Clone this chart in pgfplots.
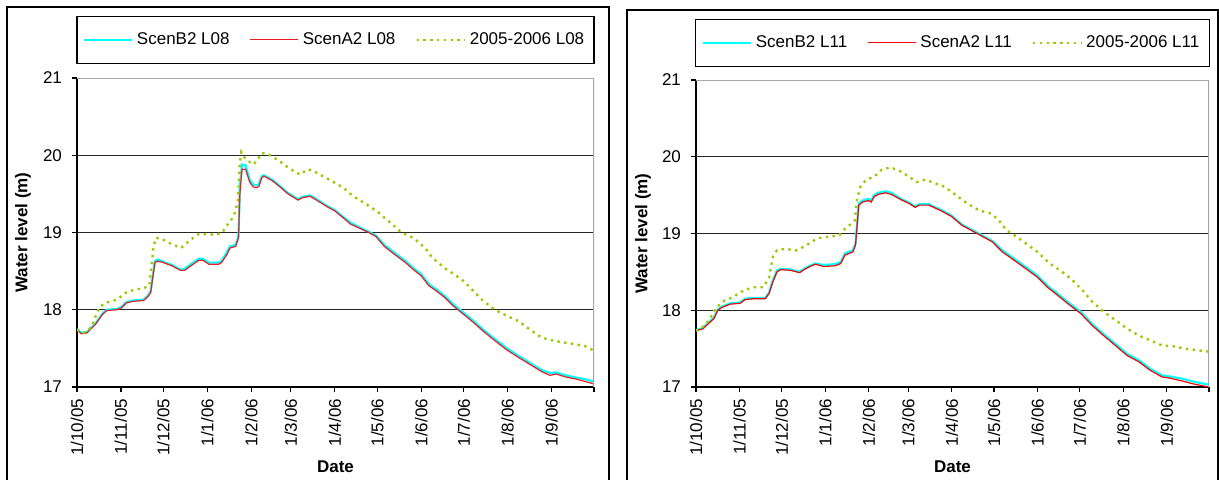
\documentclass[border=0pt]{standalone}
\usepackage{fontspec}
\setmainfont{Liberation Sans}
\usepackage{pgfplots}
\pgfplotsset{compat=1.18}
\definecolor{scenBcol}{RGB}{0,255,255}
\definecolor{scenAcol}{RGB}{250,2,2}
\definecolor{scenAcolL}{cmyk}{0,1,1,0}
\definecolor{obscol}{RGB}{153,204,0}
\newcommand{\fs}{\fontsize{8.5}{10}\selectfont}
\pgfplotsset{
 wl/.style={
  scale only axis,
  xmin=0, xmax=365, ymin=17, ymax=21,
  axis x line*=bottom, axis y line*=left,
  axis line style={black, line width=0.75pt, -},
  xtick={0,31,61,92,123,151,182,212,243,273,304,335,365},
  xticklabels={1/10/05,1/11/05,1/12/05,1/1/06,1/2/06,1/3/06,1/4/06,1/5/06,1/6/06,1/7/06,1/8/06,1/9/06,{}},
  ytick={17,18,19,20,21},
  extra y ticks={18,19,20},
  extra y tick labels={},
  extra y tick style={ymajorgrids=true, major tick length=0pt},
  grid style={black!85, line width=0.6pt},
  tick align=outside, major tick length=2.5pt, tick style={black, line width=0.6pt},
  xticklabel style={rotate=90, anchor=east, font=\fs},
  yticklabel style={font=\fs, xshift=-1.5pt},
  /pgf/number format/assume math mode=true,
  xlabel={Date}, ylabel={Water level (m)},
  every axis x label/.style={at={(rel axis cs:0.5,0)}, yshift=-40pt, anchor=center, font=\bfseries\fs},
  every axis y label/.style={at={(rel axis cs:0,0.5)}, xshift=-27pt, rotate=90, anchor=center, font=\bfseries\fs},
  legend columns=3,
  legend style={at={(0.5,1)}, anchor=south, yshift=7pt, draw=black, line width=0.75pt, font=\fs,
    inner xsep=3pt, inner ysep=6pt, /tikz/every even column/.append style={column sep=8pt}},
  legend image code/.code={\draw[#1] (0pt,0pt) -- (24pt,0pt);},
 },
}
\begin{document}
\begin{tikzpicture}
\useasboundingbox (0,0) rectangle (609.5pt,239.5pt);
% ---------------- Left panel L08
\begin{axis}[wl, at={(38.5pt,46pt)}, anchor=south west, width=258.5pt, height=154.5pt]
\addplot[color=scenBcol, line width=1.1pt] coordinates {
(0,17.75)(3,17.70)(7,17.71)(13,17.82)(18,17.95)(21,18.00)(28,18.01)(31,18.03)(35,18.10)(40,18.12)
(47,18.13)(50,18.18)(52,18.24)(55,18.63)(57,18.65)(61,18.62)(67,18.58)(73,18.52)(76,18.53)(82,18.61)
(86,18.66)(89,18.66)(93,18.61)(100,18.61)(102,18.63)(106,18.75)(108,18.82)(112,18.84)(114,18.95)(115,19.60)
(116.5,19.88)(119,19.87)(122,19.68)(124.5,19.62)(127,19.61)(128.5,19.63)(130.5,19.73)(132,19.74)(138,19.68)(144,19.59)
(149,19.51)(156,19.43)(159,19.46)(164.5,19.48)(170,19.42)(177,19.34)(182,19.29)(188,19.20)(193,19.13)(199,19.07)
(206,19.01)(211,18.96)(217,18.84)(224,18.74)(232,18.63)(237.5,18.54)(243,18.46)(248.5,18.33)(254,18.26)(259.5,18.18)
(265,18.08)(273,17.96)(279,17.87)(287,17.74)(295,17.62)(303.5,17.50)(312,17.40)(320,17.31)(328,17.22)(334,17.18)
(338,17.19)(345,17.15)(353,17.12)(359,17.10)(365,17.07)};
\addlegendentry{ScenB2 L08}
\addplot[color=scenAcolL, line width=0.6pt] coordinates {
(0,17.74)(3,17.69)(7,17.70)(13,17.81)(18,17.94)(21,17.99)(28,18.00)(31,18.02)(35,18.09)(40,18.11)
(47,18.12)(50,18.17)(52,18.22)(55,18.61)(57,18.63)(61,18.61)(67,18.57)(73,18.51)(76,18.51)(82,18.59)
(86,18.64)(89,18.64)(93,18.59)(100,18.59)(102,18.61)(106,18.72)(108,18.80)(112,18.82)(114,18.93)(115,19.50)
(116.5,19.82)(119,19.82)(122,19.65)(124.5,19.59)(127,19.58)(128.5,19.60)(130.5,19.71)(132,19.73)(138,19.67)(144,19.58)
(149,19.50)(156,19.42)(159,19.45)(164.5,19.47)(170,19.41)(177,19.33)(182,19.28)(188,19.19)(193,19.11)(199,19.06)
(206,19.00)(211,18.95)(217,18.82)(224,18.72)(232,18.61)(237.5,18.52)(243,18.44)(248.5,18.31)(254,18.24)(259.5,18.16)
(265,18.06)(273,17.94)(279,17.85)(287,17.72)(295,17.60)(303.5,17.48)(312,17.38)(320,17.29)(328,17.20)(334,17.15)
(338,17.17)(345,17.13)(353,17.10)(359,17.07)(365,17.04)};
\addlegendentry{ScenA2 L08}
\addplot[color=obscol, line width=1.2pt, dash pattern=on 1.2pt off 2.2pt] coordinates {
(0,17.74)(4.7,17.70)(10,17.77)(15.7,18.03)(20,18.09)(28,18.13)(36,18.24)(47,18.28)(51,18.31)(54,18.80)
(55.6,18.93)(59.8,18.92)(66.7,18.85)(73.5,18.80)(80.4,18.91)(86,18.98)(91.5,18.98)(98,18.97)(102.5,19.00)(106.6,19.11)
(110.7,19.21)(113.5,19.39)(114.9,19.88)(116,20.04)(119,19.95)(124.5,19.88)(127,19.93)(130.6,20.03)(135.5,20.01)(142.4,19.93)
(150.7,19.82)(157.6,19.75)(163,19.82)(168.6,19.78)(179.6,19.67)(188,19.58)(195,19.47)(204,19.37)(212.7,19.26)(221,19.13)
(229,19.00)(237.5,18.93)(245.8,18.80)(251,18.67)(259.5,18.54)(267.8,18.44)(273,18.37)(280,18.24)(287,18.11)(295,18.00)
(303.6,17.92)(312,17.85)(320,17.74)(328,17.64)(333.9,17.61)(342,17.58)(350,17.56)(358.7,17.53)(364,17.48)};
\addlegendentry{2005-2006 L08}
\draw[gray!70, line width=0.6pt] (rel axis cs:0,1) -- (rel axis cs:1,1) -- (rel axis cs:1,0);
\end{axis}
% ---------------- Right panel L11
\begin{axis}[wl, at={(348pt,46pt)}, anchor=south west, width=256.5pt, height=153.5pt,
  legend style={yshift=-0.5pt},
  every axis y label/.style={at={(rel axis cs:0,0.5)}, xshift=-26.5pt, rotate=90, anchor=center, font=\bfseries\fs}]
\addplot[color=scenBcol, line width=1.1pt] coordinates {
(0,17.74)(5,17.77)(9,17.84)(12.7,17.90)(15.5,18.01)(18.8,18.05)(24.4,18.09)(31.3,18.10)(35,18.15)(41,18.16)
(49.3,18.16)(52,18.23)(54.3,18.37)(57.6,18.52)(60.4,18.54)(67.3,18.53)(73.7,18.50)(77,18.54)(81,18.58)(85,18.61)
(90.8,18.59)(99,18.60)(103,18.63)(106,18.74)(111.6,18.78)(113.5,18.87)(115.8,19.39)(118.5,19.43)(122.7,19.45)(124.6,19.43)
(126.8,19.50)(129.6,19.53)(135,19.55)(139,19.53)(146,19.45)(151.8,19.40)(156,19.35)(158.7,19.38)(165.6,19.38)(174,19.31)
(182,19.23)(189,19.12)(196,19.05)(203,18.98)(211,18.90)(218,18.78)(226.5,18.67)(234.8,18.56)(243,18.45)(250,18.32)
(257,18.22)(265,18.10)(273.6,17.98)(282,17.82)(290,17.69)(298.5,17.56)(306.8,17.43)(315,17.35)(323,17.24)(331.7,17.15)
(336,17.14)(345.6,17.11)(354,17.07)(359.5,17.05)(365,17.03)};
\addlegendentry{ScenB2 L11}
\addplot[color=scenAcol, line width=0.6pt] coordinates {
(0,17.73)(5,17.76)(9,17.83)(12.7,17.89)(15.5,18.00)(18.8,18.04)(24.4,18.08)(31.3,18.09)(35,18.14)(41,18.15)
(49.3,18.15)(52,18.22)(54.3,18.35)(57.6,18.50)(60.4,18.53)(67.3,18.52)(73.7,18.49)(77,18.53)(81,18.57)(85,18.60)
(90.8,18.57)(99,18.58)(103,18.61)(106,18.72)(111.6,18.76)(113.5,18.85)(115.8,19.37)(118.5,19.41)(122.7,19.43)(124.6,19.41)
(126.8,19.48)(129.6,19.51)(135,19.53)(139,19.51)(146,19.44)(151.8,19.39)(156,19.34)(158.7,19.37)(165.6,19.37)(174,19.30)
(182,19.22)(189,19.11)(196,19.04)(203,18.97)(211,18.89)(218,18.76)(226.5,18.65)(234.8,18.54)(243,18.43)(250,18.30)
(257,18.20)(265,18.08)(273.6,17.96)(282,17.80)(290,17.67)(298.5,17.54)(306.8,17.41)(315,17.33)(323,17.22)(331.7,17.13)
(336,17.12)(345.6,17.08)(354,17.04)(359.5,17.02)(365,17.00)};
\addlegendentry{ScenA2 L11}
\addplot[color=obscol, line width=1.2pt, dash pattern=on 1.2pt off 2.2pt] coordinates {
(0,17.73)(6.4,17.80)(10.5,17.91)(13.8,18.02)(18.8,18.11)(27,18.18)(34,18.26)(41,18.30)(48,18.30)(52,18.43)
(54.8,18.70)(57.6,18.78)(63,18.80)(71.4,18.78)(77,18.83)(84,18.91)(89.4,18.95)(96.4,18.96)(102,18.98)(104.7,19.04)
(110,19.12)(113,19.17)(114.4,19.43)(117,19.61)(121,19.70)(126.8,19.74)(132,19.83)(138,19.86)(143.5,19.83)(151.8,19.74)
(157,19.67)(162.8,19.70)(168,19.67)(176.7,19.61)(185,19.50)(193,19.39)(201.6,19.30)(210,19.26)(215.5,19.17)(221,19.04)
(228,18.96)(234.8,18.87)(243,18.76)(251.5,18.61)(259.8,18.51)(268,18.39)(275,18.26)(282,18.11)(290,17.98)(298.5,17.87)
(306.8,17.76)(315,17.67)(323,17.61)(331.7,17.54)(340,17.53)(348,17.50)(356.7,17.48)(365,17.46)};
\addlegendentry{2005-2006 L11}
\draw[gray!70, line width=0.6pt] (rel axis cs:0,1) -- (rel axis cs:1,1) -- (rel axis cs:1,0);
\end{axis}
\draw[line width=0.75pt] (3.5pt,-2pt) -- (3.5pt,236pt) -- (304.5pt,236pt) -- (304.5pt,-2pt);
\draw[line width=0.75pt] (313.5pt,-2pt) -- (313.5pt,234.5pt) -- (609pt,234.5pt) -- (609pt,-2pt);
\end{tikzpicture}
\end{document}
